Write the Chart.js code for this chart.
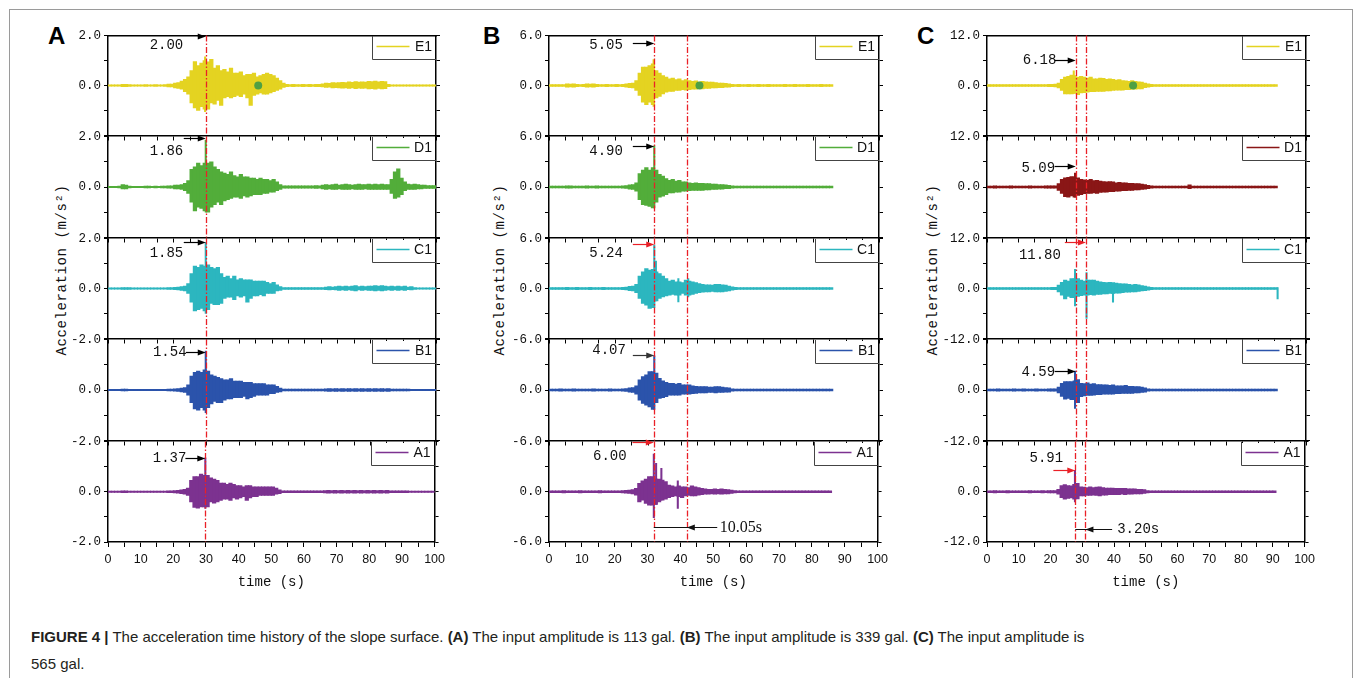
<!DOCTYPE html>
<html><head><meta charset="utf-8">
<script src="https://cdn.jsdelivr.net/npm/chart.js@4.4.1/dist/chart.umd.min.js"></script>
<style>
html,body{margin:0;padding:0;background:#fff;}
body{width:1355px;height:678px;position:relative;overflow:hidden;font-family:'Liberation Sans',Arial,sans-serif;}
#frame{position:absolute;left:9px;top:9px;width:1344px;height:720px;border:1px solid #9a9a9a;box-sizing:border-box;}
canvas{position:absolute;}
.plabel{position:absolute;font:bold 24px 'Liberation Sans',Arial,sans-serif;color:#000;line-height:24px;}
.ytitle{position:absolute;font:14px 'Liberation Mono',monospace;letter-spacing:0.6px;white-space:nowrap;transform:translate(-50%,-50%) rotate(-90deg);color:#111;}
#caption{position:absolute;left:31px;top:623px;font:15px 'Liberation Sans',Arial,sans-serif;line-height:27px;color:#231f20;white-space:nowrap;}
</style></head><body>
<div id="frame"></div>
<div class="plabel" style="left:48px;top:24px">A</div>
<div class="plabel" style="left:483px;top:24px">B</div>
<div class="plabel" style="left:917px;top:24px">C</div>
<div class="ytitle" style="left:61.5px;top:270px">Acceleration (m/s²)</div>
<div class="ytitle" style="left:500px;top:270px">Acceleration (m/s²)</div>
<div class="ytitle" style="left:933px;top:270px">Acceleration (m/s²)</div>
<div id="caption"><b>FIGURE 4</b> <b>|</b> The acceleration time history of the slope surface. <b>(A)</b> The input amplitude is 113 gal. <b>(B)</b> The input amplitude is 339 gal. <b>(C)</b> The input amplitude is<br>565 gal.</div>
<script>
// ---------------- DATA ----------------
const traceNames = ['E1','D1','C1','B1','A1'];
const xTickMax = 100;

// Panel A (113 gal) — 1 s envelope bins, upper (Hi) and lower (Lo) peaks, m/s2
const aE1Hi = [
0.03,0.03,0.03,0.03,0.05,0.05,0.04,0.03,0.03,0.03,
0.03,0.04,0.03,0.03,0.04,0.03,0.03,0.04,0.06,0.06,
0.10,0.12,0.18,0.25,0.35,0.60,0.96,0.80,0.90,1.00,
0.95,1.05,0.70,0.80,0.60,0.65,0.55,0.70,0.50,0.50,
0.55,0.40,0.45,0.45,0.50,0.35,0.40,0.45,0.50,0.45,
0.40,0.30,0.20,0.10,0.05,0.04,0.05,0.04,0.04,0.05,
0.04,0.05,0.04,0.05,0.05,0.07,0.10,0.09,0.12,0.11,
0.12,0.13,0.12,0.15,0.13,0.16,0.14,0.15,0.14,0.17,
0.16,0.18,0.15,0.17,0.16,0.05,0.03,0.03,0.03,0.03,
0.03,0.03,0.03,0.03,0.03,0.03,0.03,0.03,0.03,0.03];
const aE1Lo = [
-0.03,-0.03,-0.03,-0.03,-0.05,-0.05,-0.04,-0.03,-0.03,-0.03,
-0.03,-0.04,-0.03,-0.03,-0.04,-0.03,-0.03,-0.04,-0.06,-0.06,
-0.10,-0.12,-0.15,-0.25,-0.35,-0.70,-0.90,-1.00,-0.85,-0.95,
-0.95,-0.70,-0.75,-0.60,-0.80,-0.50,-0.45,-0.50,-0.45,-0.40,
-0.45,-0.35,-0.50,-0.80,-0.40,-0.35,-0.30,-0.35,-0.35,-0.30,
-0.25,-0.20,-0.15,-0.08,-0.05,-0.04,-0.05,-0.04,-0.04,-0.05,
-0.04,-0.05,-0.04,-0.05,-0.05,-0.06,-0.08,-0.07,-0.10,-0.09,
-0.10,-0.11,-0.10,-0.12,-0.10,-0.13,-0.11,-0.12,-0.11,-0.14,
-0.13,-0.15,-0.12,-0.14,-0.13,-0.05,-0.03,-0.03,-0.03,-0.03,
-0.03,-0.03,-0.03,-0.03,-0.03,-0.03,-0.03,-0.03,-0.03,-0.03];
const aD1Hi = [
0.03,0.03,0.03,0.04,0.10,0.08,0.04,0.03,0.03,0.03,
0.03,0.04,0.04,0.03,0.04,0.03,0.04,0.04,0.05,0.05,
0.08,0.08,0.10,0.15,0.25,0.70,0.80,0.95,0.85,0.95,
0.95,1.00,0.80,0.70,0.60,0.55,0.50,0.60,0.45,0.40,
0.50,0.40,0.40,0.35,0.35,0.30,0.35,0.30,0.30,0.25,
0.30,0.20,0.10,0.05,0.05,0.05,0.05,0.05,0.05,0.05,
0.05,0.05,0.05,0.06,0.05,0.08,0.10,0.08,0.10,0.12,
0.08,0.10,0.12,0.10,0.08,0.10,0.12,0.10,0.10,0.12,
0.10,0.12,0.10,0.12,0.10,0.10,0.30,0.60,0.72,0.35,
0.20,0.12,0.10,0.12,0.10,0.08,0.08,0.06,0.06,0.06];
const aD1Lo = [
-0.03,-0.03,-0.03,-0.04,-0.08,-0.08,-0.04,-0.03,-0.03,-0.03,
-0.03,-0.04,-0.04,-0.03,-0.04,-0.03,-0.04,-0.04,-0.05,-0.05,
-0.08,-0.08,-0.10,-0.15,-0.25,-0.60,-0.95,-0.80,-0.85,-0.95,
-1.00,-0.80,-0.70,-0.60,-0.70,-0.55,-0.50,-0.45,-0.40,-0.40,
-0.45,-0.35,-0.40,-0.35,-0.30,-0.30,-0.30,-0.25,-0.25,-0.20,
-0.20,-0.15,-0.10,-0.05,-0.05,-0.05,-0.05,-0.05,-0.05,-0.05,
-0.05,-0.05,-0.05,-0.06,-0.05,-0.08,-0.10,-0.08,-0.10,-0.10,
-0.08,-0.10,-0.10,-0.10,-0.08,-0.10,-0.10,-0.10,-0.08,-0.10,
-0.10,-0.10,-0.10,-0.10,-0.10,-0.10,-0.25,-0.45,-0.40,-0.30,
-0.15,-0.10,-0.10,-0.10,-0.08,-0.08,-0.06,-0.06,-0.06,-0.06];
const aC1Hi = [
0.03,0.03,0.03,0.03,0.04,0.04,0.04,0.03,0.03,0.03,
0.03,0.03,0.03,0.03,0.03,0.03,0.03,0.03,0.04,0.04,
0.05,0.06,0.08,0.10,0.20,0.60,0.90,0.85,0.95,0.90,
0.95,0.85,0.80,0.85,0.60,0.45,0.50,0.40,0.50,0.35,
0.40,0.35,0.35,0.35,0.30,0.30,0.30,0.30,0.25,0.20,
0.25,0.15,0.08,0.04,0.04,0.04,0.04,0.04,0.04,0.04,
0.04,0.04,0.04,0.04,0.04,0.04,0.06,0.08,0.06,0.08,
0.10,0.08,0.10,0.08,0.10,0.12,0.08,0.10,0.08,0.10,
0.10,0.12,0.10,0.12,0.10,0.08,0.10,0.08,0.10,0.08,
0.10,0.06,0.08,0.04,0.03,0.03,0.03,0.03,0.03,0.03];
const aC1Lo = [
-0.03,-0.03,-0.03,-0.03,-0.04,-0.04,-0.04,-0.03,-0.03,-0.03,
-0.03,-0.03,-0.03,-0.03,-0.03,-0.03,-0.03,-0.03,-0.04,-0.04,
-0.05,-0.06,-0.08,-0.10,-0.20,-0.55,-0.90,-0.85,-0.80,-0.90,
-0.85,-0.60,-0.65,-0.65,-0.60,-0.40,-0.35,-0.35,-0.45,-0.30,
-0.35,-0.30,-0.55,-0.40,-0.30,-0.30,-0.25,-0.30,-0.20,-0.20,
-0.20,-0.10,-0.08,-0.04,-0.04,-0.04,-0.04,-0.04,-0.04,-0.04,
-0.04,-0.04,-0.04,-0.04,-0.04,-0.04,-0.05,-0.06,-0.05,-0.06,
-0.08,-0.06,-0.08,-0.06,-0.08,-0.10,-0.06,-0.08,-0.06,-0.08,
-0.08,-0.10,-0.08,-0.10,-0.08,-0.06,-0.08,-0.06,-0.08,-0.06,
-0.08,-0.05,-0.06,-0.04,-0.03,-0.03,-0.03,-0.03,-0.03,-0.03];
const aB1Hi = [
0.03,0.03,0.03,0.03,0.04,0.04,0.03,0.03,0.03,0.03,
0.03,0.03,0.03,0.03,0.03,0.03,0.03,0.03,0.04,0.04,
0.05,0.06,0.08,0.10,0.20,0.55,0.70,0.75,0.70,0.80,
0.75,0.60,0.55,0.50,0.45,0.40,0.40,0.45,0.35,0.35,
0.35,0.30,0.30,0.30,0.25,0.25,0.25,0.25,0.20,0.20,
0.20,0.15,0.08,0.04,0.04,0.04,0.04,0.04,0.04,0.04,
0.04,0.04,0.04,0.04,0.04,0.04,0.05,0.06,0.05,0.06,
0.05,0.06,0.05,0.06,0.05,0.06,0.05,0.06,0.05,0.06,
0.05,0.06,0.05,0.06,0.05,0.06,0.04,0.04,0.04,0.04,
0.04,0.04,0.03,0.03,0.03,0.03,0.03,0.03,0.03,0.03];
const aB1Lo = [
-0.03,-0.03,-0.03,-0.03,-0.04,-0.04,-0.03,-0.03,-0.03,-0.03,
-0.03,-0.03,-0.03,-0.03,-0.03,-0.03,-0.03,-0.03,-0.04,-0.04,
-0.05,-0.06,-0.08,-0.10,-0.20,-0.50,-0.75,-0.80,-0.70,-0.80,
-0.70,-0.55,-0.45,-0.50,-0.50,-0.40,-0.35,-0.35,-0.30,-0.30,
-0.30,-0.25,-0.35,-0.30,-0.25,-0.20,-0.20,-0.20,-0.20,-0.15,
-0.15,-0.10,-0.08,-0.04,-0.04,-0.04,-0.04,-0.04,-0.04,-0.04,
-0.04,-0.04,-0.04,-0.04,-0.04,-0.04,-0.05,-0.06,-0.05,-0.06,
-0.05,-0.06,-0.05,-0.06,-0.05,-0.06,-0.05,-0.06,-0.05,-0.06,
-0.05,-0.06,-0.05,-0.06,-0.05,-0.06,-0.04,-0.04,-0.04,-0.04,
-0.04,-0.04,-0.03,-0.03,-0.03,-0.03,-0.03,-0.03,-0.03,-0.03];
const aA1Hi = [
0.03,0.03,0.03,0.03,0.04,0.04,0.03,0.03,0.03,0.03,
0.03,0.03,0.03,0.03,0.03,0.03,0.03,0.03,0.04,0.04,
0.05,0.06,0.08,0.10,0.15,0.45,0.60,0.60,0.70,0.65,
0.65,0.55,0.50,0.45,0.35,0.35,0.30,0.35,0.30,0.25,
0.25,0.20,0.25,0.25,0.20,0.20,0.20,0.20,0.20,0.20,
0.20,0.15,0.08,0.04,0.04,0.04,0.04,0.04,0.04,0.04,
0.04,0.04,0.04,0.04,0.04,0.04,0.05,0.06,0.05,0.06,
0.05,0.06,0.05,0.06,0.05,0.06,0.05,0.06,0.05,0.06,
0.05,0.06,0.05,0.06,0.05,0.06,0.04,0.04,0.04,0.04,
0.04,0.04,0.03,0.03,0.03,0.03,0.03,0.03,0.03,0.03];
const aA1Lo = [
-0.03,-0.03,-0.03,-0.03,-0.04,-0.04,-0.03,-0.03,-0.03,-0.03,
-0.03,-0.03,-0.03,-0.03,-0.03,-0.03,-0.03,-0.03,-0.04,-0.04,
-0.05,-0.06,-0.08,-0.10,-0.15,-0.40,-0.62,-0.65,-0.60,-0.60,
-0.60,-0.40,-0.45,-0.40,-0.35,-0.30,-0.30,-0.35,-0.25,-0.30,
-0.25,-0.20,-0.35,-0.25,-0.20,-0.20,-0.15,-0.15,-0.15,-0.15,
-0.15,-0.10,-0.08,-0.04,-0.04,-0.04,-0.04,-0.04,-0.04,-0.04,
-0.04,-0.04,-0.04,-0.04,-0.04,-0.04,-0.05,-0.06,-0.05,-0.06,
-0.05,-0.06,-0.05,-0.06,-0.05,-0.06,-0.05,-0.06,-0.05,-0.06,
-0.05,-0.06,-0.05,-0.06,-0.05,-0.06,-0.04,-0.04,-0.04,-0.04,
-0.04,-0.04,-0.03,-0.03,-0.03,-0.03,-0.03,-0.03,-0.03,-0.03];
// Panel A single-sample spikes: time (s), upper, lower
const aE1SpT = [29.6], aE1SpHi = [1.15], aE1SpLo = [-1.05];
const aD1SpT = [29.8], aD1SpHi = [1.86], aD1SpLo = [-1.00];
const aC1SpT = [29.8], aC1SpHi = [1.85], aC1SpLo = [-1.00];
const aB1SpT = [29.8], aB1SpHi = [1.54], aB1SpLo = [-0.90];
const aA1SpT = [29.8], aA1SpHi = [1.35], aA1SpLo = [-0.66];

// Panel B (339 gal)
const bE1Hi = [
0.12,0.12,0.12,0.12,0.12,0.20,0.18,0.20,0.15,0.12,
0.15,0.20,0.18,0.20,0.15,0.12,0.12,0.15,0.12,0.12,
0.15,0.12,0.15,0.20,0.25,0.30,0.60,1.50,2.20,2.20,
2.40,2.60,1.80,1.50,1.20,1.00,0.80,0.90,0.70,0.80,
0.60,0.70,0.60,0.50,0.55,0.40,0.50,0.45,0.40,0.40,
0.35,0.30,0.30,0.25,0.20,0.15,0.12,0.15,0.12,0.12,
0.15,0.12,0.12,0.15,0.12,0.12,0.15,0.12,0.12,0.12,
0.12,0.15,0.12,0.12,0.15,0.12,0.12,0.12,0.15,0.12,
0.12,0.12,0.15,0.12,0.12,0.10];
const bE1Lo = [
-0.12,-0.12,-0.12,-0.12,-0.12,-0.20,-0.18,-0.20,-0.15,-0.12,
-0.15,-0.20,-0.18,-0.20,-0.15,-0.12,-0.12,-0.15,-0.12,-0.12,
-0.15,-0.12,-0.15,-0.20,-0.25,-0.30,-0.60,-1.20,-2.00,-2.30,
-2.00,-2.30,-1.50,-1.30,-1.00,-0.80,-0.70,-0.70,-0.60,-0.60,
-0.50,-0.55,-0.50,-0.45,-0.45,-0.35,-0.40,-0.35,-0.35,-0.30,
-0.30,-0.25,-0.25,-0.20,-0.20,-0.15,-0.12,-0.15,-0.12,-0.12,
-0.15,-0.12,-0.12,-0.15,-0.12,-0.12,-0.15,-0.12,-0.12,-0.12,
-0.12,-0.15,-0.12,-0.12,-0.15,-0.12,-0.12,-0.12,-0.15,-0.12,
-0.12,-0.12,-0.15,-0.12,-0.12,-0.10];
const bD1Hi = [
0.12,0.12,0.12,0.12,0.12,0.15,0.15,0.12,0.12,0.12,
0.12,0.15,0.12,0.12,0.15,0.12,0.12,0.12,0.12,0.12,
0.12,0.12,0.15,0.18,0.25,0.30,0.50,1.60,2.00,2.30,
2.00,2.30,2.00,1.50,1.30,1.00,0.80,0.90,0.70,0.80,
0.60,0.60,0.50,0.45,0.50,0.45,0.45,0.40,0.40,0.35,
0.35,0.30,0.30,0.25,0.20,0.15,0.12,0.12,0.12,0.12,
0.12,0.12,0.12,0.12,0.12,0.12,0.12,0.12,0.12,0.12,
0.12,0.12,0.12,0.12,0.12,0.12,0.12,0.12,0.12,0.12,
0.12,0.12,0.12,0.12,0.12,0.10];
const bD1Lo = [
-0.12,-0.12,-0.12,-0.12,-0.12,-0.15,-0.15,-0.12,-0.12,-0.12,
-0.12,-0.15,-0.12,-0.12,-0.15,-0.12,-0.12,-0.12,-0.12,-0.12,
-0.12,-0.12,-0.15,-0.18,-0.25,-0.30,-0.50,-1.50,-2.10,-2.20,
-2.30,-2.50,-1.80,-1.20,-1.10,-0.90,-0.70,-0.70,-0.60,-0.60,
-0.50,-0.50,-0.45,-0.40,-0.40,-0.40,-0.40,-0.35,-0.35,-0.30,
-0.30,-0.25,-0.25,-0.20,-0.20,-0.15,-0.12,-0.12,-0.12,-0.12,
-0.12,-0.12,-0.12,-0.12,-0.12,-0.12,-0.12,-0.12,-0.12,-0.12,
-0.12,-0.12,-0.12,-0.12,-0.12,-0.12,-0.12,-0.12,-0.12,-0.12,
-0.12,-0.12,-0.12,-0.12,-0.12,-0.10];
const bC1Hi = [
0.12,0.12,0.12,0.12,0.12,0.15,0.12,0.12,0.15,0.12,
0.12,0.12,0.15,0.12,0.12,0.12,0.15,0.12,0.12,0.12,
0.12,0.12,0.15,0.18,0.25,0.30,0.50,1.50,2.00,2.40,
2.20,2.30,2.00,1.80,1.50,1.20,0.90,1.00,0.80,0.80,
0.70,1.00,0.90,0.80,0.70,0.60,0.50,0.45,0.45,0.40,
0.50,0.50,0.45,0.40,0.30,0.20,0.15,0.12,0.12,0.12,
0.12,0.12,0.12,0.12,0.12,0.12,0.12,0.12,0.12,0.12,
0.12,0.12,0.12,0.12,0.12,0.12,0.12,0.12,0.12,0.12,
0.12,0.12,0.12,0.12,0.12,0.10];
const bC1Lo = [
-0.12,-0.12,-0.12,-0.12,-0.12,-0.15,-0.12,-0.12,-0.15,-0.12,
-0.12,-0.12,-0.15,-0.12,-0.12,-0.12,-0.15,-0.12,-0.12,-0.12,
-0.12,-0.12,-0.15,-0.18,-0.25,-0.30,-0.50,-1.20,-1.80,-2.00,
-2.40,-2.30,-1.50,-1.20,-1.00,-0.90,-0.80,-0.70,-0.80,-0.80,
-0.60,-0.80,-0.80,-0.70,-0.60,-0.50,-0.45,-0.40,-0.40,-0.35,
-0.40,-0.40,-0.40,-0.35,-0.30,-0.20,-0.15,-0.12,-0.12,-0.12,
-0.12,-0.12,-0.12,-0.12,-0.12,-0.12,-0.12,-0.12,-0.12,-0.12,
-0.12,-0.12,-0.12,-0.12,-0.12,-0.12,-0.12,-0.12,-0.12,-0.12,
-0.12,-0.12,-0.12,-0.12,-0.12,-0.10];
const bB1Hi = [
0.12,0.12,0.12,0.15,0.12,0.12,0.12,0.15,0.12,0.12,
0.12,0.12,0.12,0.15,0.12,0.12,0.12,0.12,0.15,0.12,
0.12,0.12,0.15,0.18,0.25,0.30,0.50,1.20,1.60,1.80,
2.20,2.20,2.00,1.40,1.10,0.90,0.80,0.80,0.70,0.80,
0.60,0.60,0.60,0.50,0.45,0.40,0.40,0.40,0.35,0.35,
0.40,0.40,0.35,0.30,0.25,0.15,0.12,0.12,0.12,0.12,
0.12,0.12,0.12,0.12,0.12,0.12,0.12,0.12,0.12,0.12,
0.12,0.12,0.12,0.12,0.12,0.12,0.12,0.12,0.12,0.12,
0.12,0.12,0.12,0.12,0.12,0.10];
const bB1Lo = [
-0.12,-0.12,-0.12,-0.15,-0.12,-0.12,-0.12,-0.15,-0.12,-0.12,
-0.12,-0.12,-0.12,-0.15,-0.12,-0.12,-0.12,-0.12,-0.15,-0.12,
-0.12,-0.12,-0.15,-0.18,-0.25,-0.30,-0.50,-1.20,-1.60,-1.80,
-2.00,-2.30,-1.50,-1.00,-0.90,-0.80,-0.60,-0.60,-0.60,-0.60,
-0.50,-0.50,-0.50,-0.45,-0.40,-0.35,-0.35,-0.35,-0.30,-0.30,
-0.35,-0.30,-0.30,-0.25,-0.25,-0.15,-0.12,-0.12,-0.12,-0.12,
-0.12,-0.12,-0.12,-0.12,-0.12,-0.12,-0.12,-0.12,-0.12,-0.12,
-0.12,-0.12,-0.12,-0.12,-0.12,-0.12,-0.12,-0.12,-0.12,-0.12,
-0.12,-0.12,-0.12,-0.12,-0.12,-0.10];
const bA1Hi = [
0.12,0.12,0.12,0.12,0.15,0.12,0.12,0.12,0.12,0.15,
0.12,0.12,0.12,0.12,0.12,0.15,0.12,0.12,0.12,0.12,
0.12,0.12,0.15,0.18,0.20,0.25,0.40,1.00,1.30,1.50,
1.80,1.80,1.50,1.50,1.40,1.20,0.80,0.70,0.60,0.70,
0.60,0.60,0.50,0.70,0.60,0.50,0.40,0.35,0.30,0.30,
0.35,0.30,0.35,0.30,0.25,0.20,0.15,0.12,0.12,0.12,
0.12,0.12,0.12,0.12,0.12,0.12,0.12,0.12,0.12,0.12,
0.12,0.12,0.12,0.12,0.12,0.12,0.12,0.12,0.12,0.12,
0.12,0.12,0.12,0.12,0.12,0.10];
const bA1Lo = [
-0.12,-0.12,-0.12,-0.12,-0.15,-0.12,-0.12,-0.12,-0.12,-0.15,
-0.12,-0.12,-0.12,-0.12,-0.12,-0.15,-0.12,-0.12,-0.12,-0.12,
-0.12,-0.12,-0.15,-0.18,-0.20,-0.25,-0.40,-1.20,-1.00,-1.40,
-1.60,-1.60,-1.50,-1.20,-1.00,-0.90,-0.70,-0.60,-0.50,-0.60,
-0.70,-0.50,-0.45,-0.50,-0.50,-0.40,-0.35,-0.30,-0.30,-0.25,
-0.30,-0.25,-0.30,-0.25,-0.25,-0.20,-0.15,-0.12,-0.12,-0.12,
-0.12,-0.12,-0.12,-0.12,-0.12,-0.12,-0.12,-0.12,-0.12,-0.12,
-0.12,-0.12,-0.12,-0.12,-0.12,-0.12,-0.12,-0.12,-0.12,-0.12,
-0.12,-0.12,-0.12,-0.12,-0.12,-0.10];
const bE1SpT = [31.7], bE1SpHi = [3.10], bE1SpLo = [-2.50];
const bD1SpT = [31.9], bD1SpHi = [4.90], bD1SpLo = [-2.50];
const bC1SpT = [31.9, 32.4, 39.2, 42.2], bC1SpHi = [5.20, 3.30, 1.20, 1.20], bC1SpLo = [-2.30, -1.50, -1.60, -1.00];
const bB1SpT = [31.9], bB1SpHi = [4.07], bB1SpLo = [-2.30];
const bA1SpT = [31.9, 32.6, 34.2, 39.2], bA1SpHi = [4.50, 3.40, 2.80, 1.30], bA1SpLo = [-3.10, -1.50, -1.00, -2.00];

// Panel C (565 gal)
const cE1Hi = [
0.20,0.20,0.20,0.25,0.20,0.20,0.25,0.20,0.20,0.20,
0.20,0.25,0.20,0.20,0.25,0.20,0.20,0.25,0.25,0.30,
0.30,0.35,0.60,1.50,2.00,2.20,2.50,2.40,2.00,2.20,
2.00,1.80,2.00,1.60,1.60,1.80,1.70,1.50,1.60,1.50,
1.30,1.40,1.20,1.10,1.00,1.20,1.00,0.90,0.80,0.60,
0.40,0.30,0.20,0.20,0.20,0.20,0.25,0.20,0.20,0.20,
0.20,0.20,0.20,0.20,0.20,0.20,0.20,0.20,0.20,0.20,
0.20,0.20,0.20,0.20,0.20,0.20,0.20,0.20,0.20,0.20,
0.20,0.20,0.20,0.20,0.20,0.20,0.20,0.20,0.20,0.20,
0.20];
const cE1Lo = [
-0.20,-0.20,-0.20,-0.25,-0.20,-0.20,-0.25,-0.20,-0.20,-0.20,
-0.20,-0.25,-0.20,-0.20,-0.25,-0.20,-0.20,-0.25,-0.25,-0.30,
-0.30,-0.35,-0.60,-1.20,-2.00,-2.00,-2.00,-1.90,-2.20,-1.80,
-1.70,-1.60,-1.50,-1.50,-1.40,-1.40,-1.40,-1.30,-1.30,-1.20,
-1.10,-1.10,-1.10,-1.00,-1.00,-0.90,-0.90,-0.80,-0.80,-0.50,
-0.40,-0.30,-0.20,-0.20,-0.20,-0.20,-0.25,-0.20,-0.20,-0.20,
-0.20,-0.20,-0.20,-0.20,-0.20,-0.20,-0.20,-0.20,-0.20,-0.20,
-0.20,-0.20,-0.20,-0.20,-0.20,-0.20,-0.20,-0.20,-0.20,-0.20,
-0.20,-0.20,-0.20,-0.20,-0.20,-0.20,-0.20,-0.20,-0.20,-0.20,
-0.20];
const cD1Hi = [
0.20,0.20,0.25,0.20,0.20,0.20,0.20,0.25,0.20,0.20,
0.20,0.20,0.20,0.25,0.20,0.20,0.20,0.20,0.25,0.25,
0.25,0.30,0.80,1.80,2.20,2.30,2.50,2.40,2.20,1.80,
1.70,1.60,1.80,1.50,1.60,1.40,1.30,1.20,1.30,1.20,
1.00,1.10,1.00,1.00,0.90,0.90,0.80,0.80,0.70,0.60,
0.40,0.30,0.20,0.20,0.20,0.20,0.20,0.20,0.20,0.20,
0.20,0.20,0.20,0.50,0.20,0.20,0.20,0.20,0.20,0.20,
0.20,0.20,0.20,0.20,0.20,0.20,0.20,0.20,0.20,0.20,
0.20,0.20,0.20,0.20,0.20,0.20,0.20,0.20,0.20,0.20,
0.20];
const cD1Lo = [
-0.20,-0.20,-0.25,-0.20,-0.20,-0.20,-0.20,-0.25,-0.20,-0.20,
-0.20,-0.20,-0.20,-0.25,-0.20,-0.20,-0.20,-0.20,-0.25,-0.25,
-0.25,-0.30,-0.80,-1.50,-2.30,-2.40,-2.10,-2.40,-2.00,-1.80,
-1.60,-1.50,-1.50,-1.40,-1.50,-1.30,-1.20,-1.20,-1.10,-1.10,
-1.00,-1.00,-0.90,-0.90,-0.80,-0.80,-0.70,-0.70,-0.60,-0.50,
-0.40,-0.30,-0.20,-0.20,-0.20,-0.20,-0.20,-0.20,-0.20,-0.20,
-0.20,-0.20,-0.20,-0.40,-0.20,-0.20,-0.20,-0.20,-0.20,-0.20,
-0.20,-0.20,-0.20,-0.20,-0.20,-0.20,-0.20,-0.20,-0.20,-0.20,
-0.20,-0.20,-0.20,-0.20,-0.20,-0.20,-0.20,-0.20,-0.20,-0.20,
-0.20];
const cC1Hi = [
0.20,0.20,0.20,0.20,0.25,0.20,0.20,0.20,0.20,0.25,
0.20,0.20,0.25,0.20,0.20,0.20,0.20,0.20,0.25,0.25,
0.30,0.30,0.80,1.50,2.00,1.80,2.40,2.40,2.40,2.00,
1.80,2.00,2.00,2.00,1.80,1.60,1.50,1.40,1.50,1.40,
1.30,1.20,1.10,1.10,1.00,0.90,1.00,0.90,0.70,0.60,
0.40,0.30,0.20,0.20,0.20,0.20,0.20,0.20,0.20,0.20,
0.20,0.20,0.20,0.20,0.20,0.20,0.20,0.20,0.20,0.20,
0.20,0.20,0.20,0.20,0.20,0.20,0.20,0.20,0.20,0.20,
0.20,0.20,0.20,0.20,0.20,0.20,0.20,0.20,0.20,0.20,
0.20];
const cC1Lo = [
-0.20,-0.20,-0.20,-0.20,-0.25,-0.20,-0.20,-0.20,-0.20,-0.25,
-0.20,-0.20,-0.25,-0.20,-0.20,-0.20,-0.20,-0.20,-0.25,-0.25,
-0.30,-0.30,-0.80,-1.60,-2.50,-1.90,-2.20,-2.20,-1.90,-1.70,
-1.60,-1.60,-1.50,-1.60,-1.40,-1.40,-1.30,-1.30,-1.20,-1.20,
-1.10,-1.10,-1.00,-0.90,-0.90,-0.80,-0.80,-0.70,-0.60,-0.50,
-0.40,-0.30,-0.20,-0.20,-0.20,-0.20,-0.20,-0.20,-0.20,-0.20,
-0.20,-0.20,-0.20,-0.20,-0.20,-0.20,-0.20,-0.20,-0.20,-0.20,
-0.20,-0.20,-0.20,-0.20,-0.20,-0.20,-0.20,-0.20,-0.20,-0.20,
-0.20,-0.20,-0.20,-0.20,-0.20,-0.20,-0.20,-0.20,-0.20,-0.20,
-0.20];
const cB1Hi = [
0.20,0.20,0.20,0.25,0.20,0.20,0.20,0.20,0.25,0.20,
0.20,0.25,0.20,0.20,0.20,0.25,0.20,0.20,0.20,0.25,
0.25,0.30,0.70,1.60,2.00,2.00,2.00,2.20,2.50,1.60,
1.50,1.70,1.40,1.50,1.30,1.30,1.20,1.20,1.10,1.20,
1.00,1.00,1.00,1.10,0.90,0.90,0.80,0.80,0.70,0.50,
0.30,0.20,0.20,0.20,0.20,0.20,0.20,0.20,0.20,0.20,
0.20,0.20,0.20,0.20,0.20,0.20,0.20,0.20,0.20,0.20,
0.20,0.20,0.20,0.20,0.20,0.20,0.20,0.20,0.20,0.20,
0.20,0.20,0.20,0.20,0.20,0.20,0.20,0.20,0.20,0.20,
0.20];
const cB1Lo = [
-0.20,-0.20,-0.20,-0.25,-0.20,-0.20,-0.20,-0.20,-0.25,-0.20,
-0.20,-0.25,-0.20,-0.20,-0.20,-0.25,-0.20,-0.20,-0.20,-0.25,
-0.25,-0.30,-0.70,-1.50,-2.20,-2.00,-2.30,-2.30,-3.00,-1.60,
-1.40,-1.30,-1.30,-1.20,-1.10,-1.10,-1.00,-1.00,-1.00,-1.00,
-0.90,-0.90,-0.80,-0.80,-0.80,-0.80,-0.70,-0.70,-0.60,-0.50,
-0.30,-0.20,-0.20,-0.20,-0.20,-0.20,-0.20,-0.20,-0.20,-0.20,
-0.20,-0.20,-0.20,-0.20,-0.20,-0.20,-0.20,-0.20,-0.20,-0.20,
-0.20,-0.20,-0.20,-0.20,-0.20,-0.20,-0.20,-0.20,-0.20,-0.20,
-0.20,-0.20,-0.20,-0.20,-0.20,-0.20,-0.20,-0.20,-0.20,-0.20,
-0.20];
const cA1Hi = [
0.20,0.20,0.25,0.20,0.20,0.20,0.25,0.20,0.20,0.20,
0.20,0.20,0.20,0.25,0.20,0.20,0.20,0.25,0.20,0.25,
0.25,0.30,0.60,1.50,1.70,1.50,1.40,1.80,2.00,1.20,
1.10,1.00,1.20,1.00,1.10,1.20,1.00,0.90,0.90,0.90,
0.80,0.80,0.80,0.80,0.70,0.70,0.70,0.60,0.60,0.50,
0.30,0.20,0.20,0.20,0.20,0.20,0.20,0.20,0.20,0.20,
0.20,0.20,0.20,0.20,0.20,0.20,0.20,0.20,0.20,0.20,
0.20,0.20,0.20,0.20,0.20,0.20,0.20,0.20,0.20,0.20,
0.20,0.20,0.20,0.20,0.20,0.20,0.20,0.20,0.20,0.20,
0.20];
const cA1Lo = [
-0.20,-0.20,-0.25,-0.20,-0.20,-0.20,-0.25,-0.20,-0.20,-0.20,
-0.20,-0.20,-0.20,-0.25,-0.20,-0.20,-0.20,-0.25,-0.20,-0.25,
-0.25,-0.30,-0.60,-1.40,-1.80,-1.60,-1.50,-1.80,-1.70,-1.00,
-1.00,-0.90,-0.90,-0.80,-0.90,-1.00,-0.80,-0.80,-0.70,-0.70,
-0.70,-0.70,-0.60,-0.70,-0.60,-0.60,-0.50,-0.50,-0.50,-0.40,
-0.30,-0.20,-0.20,-0.20,-0.20,-0.20,-0.20,-0.20,-0.20,-0.20,
-0.20,-0.20,-0.20,-0.20,-0.20,-0.20,-0.20,-0.20,-0.20,-0.20,
-0.20,-0.20,-0.20,-0.20,-0.20,-0.20,-0.20,-0.20,-0.20,-0.20,
-0.20,-0.20,-0.20,-0.20,-0.20,-0.20,-0.20,-0.20,-0.20,-0.20,
-0.20];
const cE1SpT = [27.2], cE1SpHi = [3.50], cE1SpLo = [-1.90];
const cD1SpT = [27.6], cD1SpHi = [3.30], cD1SpLo = [-2.40];
const cC1SpT = [27.6, 31.2, 39.5, 91.1], cC1SpHi = [4.60, 3.80, 1.00, 0.20], cC1SpLo = [-4.20, -7.20, -3.30, -2.50];
const cB1SpT = [27.6], cB1SpHi = [4.50], cB1SpLo = [-4.40];
const cA1SpT = [27.7], cA1SpHi = [5.10], cA1SpLo = [-2.40];

// Labels / markers
const peakLabelsA = ['2.00','1.86','1.85','1.54','1.37'];
const peakLabelsB = ['5.05','4.90','5.24','4.07','6.00'];
const peakLabelsC = ['6.18','5.09','11.80','4.59','5.91'];
const edgeLabelsA = ['2.0','2.0','2.0','-2.0','-2.0','-2.0'];
const edgeLabelsB = ['6.0','6.0','6.0','-6.0','-6.0','-6.0'];
const edgeLabelsC = ['12.0','12.0','12.0','-12.0','-12.0','-12.0'];
const refLinesA = [29.8];
const refLinesB = [31.9, 41.95];
const refLinesC = [27.8, 31.0];
const gapLabelB = '10.05s';
const gapLabelC = '3.20s';
const dotTimes = [45.8, 45.6, 45.8];

// ---------------- STYLE / LAYOUT ----------------
const RED = '#ea2027';
const col = {E1:'#e4d321', D1:'#52ad3a', D1c:'#8a1616', C1:'#2cb6bf', B1:'#2b53ab', A1:'#7c3290'};
const GEOM = {tops:[35,136,238,339,441], bottom:542, yAxisW:60, rightW:14, padTop:10, innerXH:10, bottomXH:49};

const annA = [
 {tx:12.7, ty:1.61, a1:27.4, a2:29.8, ay:2.00, c:'#000'},
 {tx:12.7, ty:1.42, a1:23.1, a2:29.8, ay:1.94, c:'#000'},
 {tx:12.7, ty:1.42, a1:23.1, a2:29.8, ay:1.85, c:'#000'},
 {tx:13.7, ty:1.50, a1:23.7, a2:29.8, ay:1.52, c:'#000'},
 {tx:13.7, ty:1.34, a1:23.7, a2:29.8, ay:1.34, c:'#000'}];
const annB = [
 {tx:12.2, ty:4.85, a1:25.4, a2:31.9, ay:5.05, c:'#000'},
 {tx:12.2, ty:4.30, a1:25.4, a2:31.9, ay:4.90, c:'#000'},
 {tx:12.2, ty:4.25, a1:25.4, a2:31.9, ay:5.28, c:RED},
 {tx:13.1, ty:4.76, a1:25.4, a2:31.9, ay:4.17, c:'#333'},
 {tx:13.4, ty:4.20, a1:25.4, a2:31.9, ay:6.00, c:RED}];
const annC = [
 {tx:11.2, ty:6.0, a1:21.2, a2:27.8, ay:6.15, c:'#000'},
 {tx:10.8, ty:4.5, a1:21.2, a2:27.8, ay:4.90, c:'#000'},
 {tx:10.0, ty:8.0, a1:24.4, a2:31.0, ay:11.1, c:RED},
 {tx:10.8, ty:4.2, a1:21.2, a2:27.8, ay:4.40, c:'#000'},
 {tx:13.4, ty:8.1, a1:20.9, a2:27.8, ay:5.10, c:RED}];

const panels = [
 {left:108, right:436, yMax:2, yStep:1, edges:edgeLabelsA, lines:refLinesA, dot:dotTimes[0], peaks:peakLabelsA, ann:annA,
  dim:null,
  traces:[
   {color:col.E1, hi:aE1Hi, lo:aE1Lo, sT:aE1SpT, sHi:aE1SpHi, sLo:aE1SpLo},
   {color:col.D1, hi:aD1Hi, lo:aD1Lo, sT:aD1SpT, sHi:aD1SpHi, sLo:aD1SpLo},
   {color:col.C1, hi:aC1Hi, lo:aC1Lo, sT:aC1SpT, sHi:aC1SpHi, sLo:aC1SpLo},
   {color:col.B1, hi:aB1Hi, lo:aB1Lo, sT:aB1SpT, sHi:aB1SpHi, sLo:aB1SpLo},
   {color:col.A1, hi:aA1Hi, lo:aA1Lo, sT:aA1SpT, sHi:aA1SpHi, sLo:aA1SpLo}]},
 {left:549, right:879, yMax:6, yStep:3, edges:edgeLabelsB, lines:refLinesB, dot:dotTimes[1], peaks:peakLabelsB, ann:annB,
  dim:{t1:31.9, t2:41.95, tEnd:51.2, v:-4.2, tText:52.0, text:gapLabelB, font:"16px 'Liberation Serif', 'Times New Roman', serif"},
  traces:[
   {color:col.E1, hi:bE1Hi, lo:bE1Lo, sT:bE1SpT, sHi:bE1SpHi, sLo:bE1SpLo},
   {color:col.D1, hi:bD1Hi, lo:bD1Lo, sT:bD1SpT, sHi:bD1SpHi, sLo:bD1SpLo},
   {color:col.C1, hi:bC1Hi, lo:bC1Lo, sT:bC1SpT, sHi:bC1SpHi, sLo:bC1SpLo},
   {color:col.B1, hi:bB1Hi, lo:bB1Lo, sT:bB1SpT, sHi:bB1SpHi, sLo:bB1SpLo},
   {color:col.A1, hi:bA1Hi, lo:bA1Lo, sT:bA1SpT, sHi:bA1SpHi, sLo:bA1SpLo}]},
 {left:987, right:1306, yMax:12, yStep:6, edges:edgeLabelsC, lines:refLinesC, dot:dotTimes[2], peaks:peakLabelsC, ann:annC,
  dim:{t1:27.8, t2:31.0, tEnd:39.4, v:-8.8, tText:41.0, text:gapLabelC, font:"14px 'Liberation Mono', monospace"},
  traces:[
   {color:col.E1, hi:cE1Hi, lo:cE1Lo, sT:cE1SpT, sHi:cE1SpHi, sLo:cE1SpLo},
   {color:col.D1c, hi:cD1Hi, lo:cD1Lo, sT:cD1SpT, sHi:cD1SpHi, sLo:cD1SpLo},
   {color:col.C1, hi:cC1Hi, lo:cC1Lo, sT:cC1SpT, sHi:cC1SpHi, sLo:cC1SpLo},
   {color:col.B1, hi:cB1Hi, lo:cB1Lo, sT:cB1SpT, sHi:cB1SpHi, sLo:cB1SpLo},
   {color:col.A1, hi:cA1Hi, lo:cA1Lo, sT:cA1SpT, sHi:cA1SpHi, sLo:cA1SpLo}]}
];

Chart.defaults.font.family = "'Liberation Sans', Arial, sans-serif";
Chart.defaults.color = '#111';

function arrowHead(ctx, x, y, dir, color) {
  ctx.fillStyle = color;
  ctx.beginPath();
  ctx.moveTo(x, y);
  ctx.lineTo(x - dir * 8, y - 3);
  ctx.lineTo(x - dir * 8, y + 3);
  ctx.closePath();
  ctx.fill();
}

function makeOverlay(p, i) {
  return {
    id: 'overlay' + i,
    afterDatasetsDraw(chart) {
      const ctx = chart.ctx, ca = chart.chartArea;
      const xs = chart.scales.x, ys = chart.scales.y;
      const X = t => xs.getPixelForValue(t), Y = v => ys.getPixelForValue(v);
      ctx.save();
      // reference dash-dot lines
      ctx.strokeStyle = RED; ctx.lineWidth = 1.3; ctx.setLineDash([6, 2, 1.5, 2]);
      p.lines.forEach(t => {
        const px = Math.round(X(t)) + 0.5;
        ctx.beginPath(); ctx.moveTo(px, ca.top); ctx.lineTo(px, ca.bottom); ctx.stroke();
      });
      ctx.setLineDash([]);
      // peak label and arrow
      const a = p.ann[i];
      ctx.fillStyle = '#111'; ctx.font = "14px 'Liberation Mono', monospace";
      ctx.textAlign = 'left'; ctx.textBaseline = 'middle';
      ctx.fillText(p.peaks[i], X(a.tx), Y(a.ty));
      const ay = Math.round(Y(a.ay)) + 0.5, x1 = X(a.a1), x2 = X(a.a2);
      ctx.strokeStyle = a.c; ctx.lineWidth = 1.2;
      ctx.beginPath(); ctx.moveTo(x1, ay); ctx.lineTo(x2 - 6, ay); ctx.stroke();
      arrowHead(ctx, x2, ay, 1, a.c);
      // time-gap dimension (bottom subplot)
      if (i === 4 && p.dim) {
        const d = p.dim, dy = Math.round(Y(d.v)) + 0.5;
        ctx.strokeStyle = '#111'; ctx.lineWidth = 1.2;
        ctx.beginPath(); ctx.moveTo(X(d.t1), dy); ctx.lineTo(X(d.tEnd), dy); ctx.stroke();
        arrowHead(ctx, X(d.t2), dy, -1, '#111');
        ctx.fillStyle = '#111'; ctx.font = d.font; ctx.textAlign = 'left'; ctx.textBaseline = 'middle';
        ctx.fillText(d.text, X(d.tText), dy);
      }
      // legend box
      const lw = 64, lh = 23, lx = Math.round(ca.right - lw) + 0.5, ly = Math.round(ca.top);
      ctx.fillStyle = '#fff'; ctx.fillRect(lx, ly + 1, lw - 1.5, lh - 1);
      ctx.strokeStyle = '#444'; ctx.lineWidth = 1;
      ctx.beginPath(); ctx.moveTo(lx, ly); ctx.lineTo(lx, ly + lh + 0.5); ctx.lineTo(ca.right, ly + lh + 0.5); ctx.stroke();
      ctx.strokeStyle = p.traces[i].color; ctx.lineWidth = 1.3;
      ctx.beginPath(); ctx.moveTo(lx + 4, ly + 10.5); ctx.lineTo(lx + 37, ly + 10.5); ctx.stroke();
      ctx.fillStyle = '#111'; ctx.font = "14px 'Liberation Sans', Arial, sans-serif";
      ctx.textAlign = 'right'; ctx.textBaseline = 'middle';
      ctx.fillText(traceNames[i], ca.right - 4, ly + 11.5);
      ctx.restore();
    }
  };
}

function makeChart(p, i) {
  const T = GEOM.tops[i], Bt = i < 4 ? GEOM.tops[i + 1] : GEOM.bottom;
  const isBottom = i === 4;
  const xH = isBottom ? GEOM.bottomXH : GEOM.innerXH;
  const W = (p.right - p.left) + GEOM.yAxisW + GEOM.rightW;
  const H = GEOM.padTop + (Bt - T) + xH;
  const cv = document.createElement('canvas');
  cv.width = W; cv.height = H;
  cv.style.left = (p.left - GEOM.yAxisW) + 'px';
  cv.style.top = (T - GEOM.padTop) + 'px';
  cv.style.width = W + 'px'; cv.style.height = H + 'px';
  document.body.appendChild(cv);
  const tr = p.traces[i];
  const pxPerSec = (p.right - p.left) / xTickMax;
  const datasets = [
    {type:'bar', data: tr.hi.map((h, k) => ({x: k + 0.5, y: [tr.lo[k], h]})),
     backgroundColor: tr.color, borderWidth: 0, barThickness: pxPerSec + 0.3, grouped: false, order: 2,
     xAxisID: 'x', yAxisID: 'y'},
    {type:'bar', data: tr.sT.map((t, k) => ({x: t, y: [tr.sLo[k], tr.sHi[k]]})),
     backgroundColor: tr.color, borderWidth: 0, barThickness: 1.4, grouped: false, order: 1,
     xAxisID: 'x', yAxisID: 'y'}
  ];
  if (i === 0) {
    datasets.push({type:'line', data: [{x: p.dot, y: 0}], showLine: false, pointRadius: 4,
      pointBackgroundColor: '#4fa043', pointBorderWidth: 0, order: 0, xAxisID: 'x', yAxisID: 'y'});
  }
  const near = (a, b) => Math.abs(a - b) < 1e-9;
  const scales = {
    x: {type: 'linear', position: 'bottom', min: 0, max: xTickMax, offset: false,
        grid: {display: true, offset: false, drawOnChartArea: false, drawTicks: true, tickLength: 5, color: '#000', tickColor: '#000', tickWidth: 1},
        border: {display: true, color: '#000', width: 1.5},
        ticks: {display: isBottom, stepSize: 5, autoSkip: false, maxRotation: 0, padding: 5, color: '#111',
                font: {family: "'Liberation Sans', Arial, sans-serif", size: 12.5},
                callback: v => (near(v % 10, 0) ? String(v) : '')},
        title: {display: isBottom, text: 'time (s)', color: '#111', padding: {top: 0, bottom: 0},
                font: {family: "'Liberation Mono', monospace", size: 14}},
        afterFit: s => { s.height = xH; }},
    y: {type: 'linear', position: 'left', min: -p.yMax, max: p.yMax,
        grid: {display: true, drawOnChartArea: false, drawTicks: true, tickLength: 4, color: '#000', tickColor: '#000'},
        border: {display: true, color: '#000', width: 1.5},
        ticks: {stepSize: p.yStep, padding: 3, color: '#111', autoSkip: false,
                font: {family: "'Liberation Mono', monospace", size: 12.5},
                callback: v => {
                  if (near(v, 0)) return '0.0';
                  if (near(v, p.yMax)) return p.edges[i];
                  if (near(v, -p.yMax) && isBottom) return p.edges[5];
                  return '';
                }},
        afterFit: s => { s.width = GEOM.yAxisW; }},
    y2: {type: 'linear', position: 'right', min: -p.yMax, max: p.yMax,
        grid: {display: true, drawOnChartArea: false, drawTicks: true, tickLength: 4, color: '#000', tickColor: '#000'},
        border: {display: true, color: '#000', width: 1.5},
        ticks: {display: false, stepSize: p.yStep},
        afterFit: s => { s.width = GEOM.rightW; }}
  };
  if (i === 0) {
    scales.x2 = {type: 'linear', position: 'top', min: 0, max: xTickMax,
      grid: {display: false, drawTicks: false}, border: {display: true, color: '#000', width: 1.5},
      ticks: {display: false}, afterFit: s => { s.height = 0; }};
  }
  new Chart(cv, {
    type: 'bar',
    data: {datasets},
    options: {
      responsive: false, animation: false, devicePixelRatio: 1, events: [],
      layout: {padding: {top: GEOM.padTop, left: 0, right: 0, bottom: 0}},
      plugins: {legend: {display: false}, tooltip: {enabled: false}},
      scales
    },
    plugins: [makeOverlay(p, i)]
  });
}

panels.forEach(p => { for (let i = 0; i < 5; i++) makeChart(p, i); });
</script>
</body></html>
